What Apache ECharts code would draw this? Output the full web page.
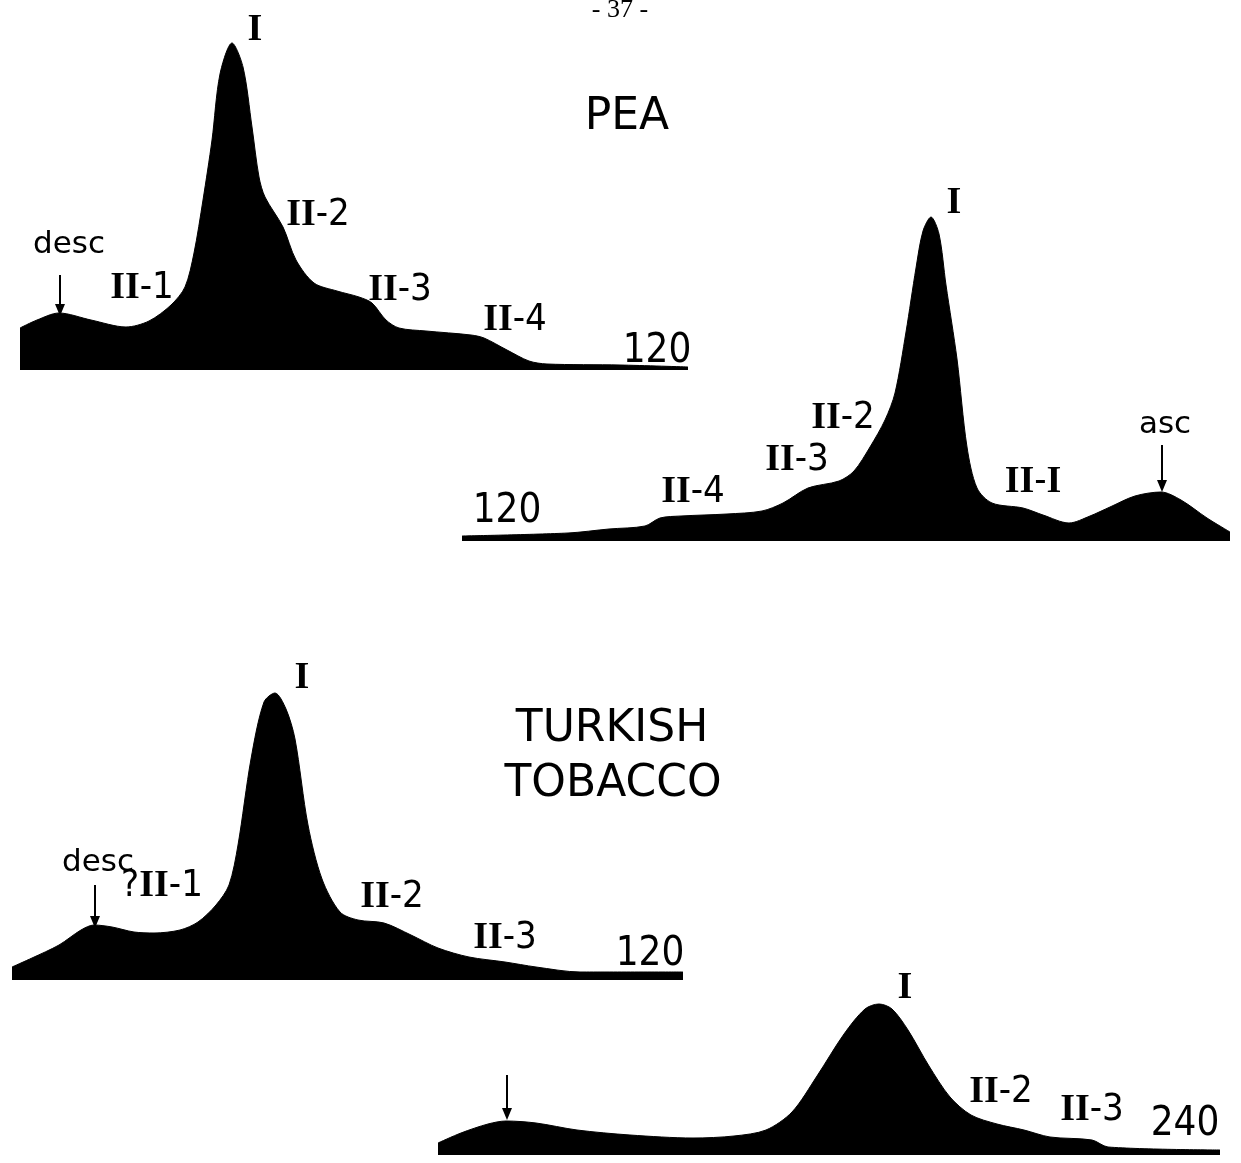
<!DOCTYPE html>
<html>
<head>
<meta charset="utf-8">
<script src="https://cdn.jsdelivr.net/npm/echarts@6/dist/echarts.min.js"></script>
<style>
  html, body { margin: 0; padding: 0; background: #fff; }
</style>
</head>
<body>
<div id="main" style="width: 1241px; height: 1163px"></div>
<script>
// sedimentation patterns, [distance, deflection]
var peaDesc = [
    [0, 42], [17, 50], [39, 57], [71, 50], [106, 43], [129, 49], [151, 65], [165, 83],
    [174, 117], [183, 170], [192, 230], [200, 296], [212, 327], [223, 303], [232, 243],
    [239, 193], [245, 173], [263, 143], [276, 110], [294, 87], [317, 79], [339, 73],
    [352, 67], [366, 50], [379, 42], [406, 39], [451, 35], [464, 32], [487, 20],
    [509, 9], [527, 6], [600, 5], [668, 3]
];
var peaAsc = [
    [0, 5], [106, 8], [147, 12], [183, 15], [198, 23], [219, 25], [265, 27], [300, 30],
    [321, 38], [346, 53], [377, 60], [392, 70], [408, 94], [423, 121], [433, 148],
    [444, 209], [454, 273], [461, 310], [469, 324], [477, 307], [484, 256], [495, 182],
    [505, 94], [515, 53], [530, 38], [561, 33], [581, 26], [607, 18], [628, 25],
    [648, 34], [673, 45], [699, 49], [719, 41], [745, 23], [768, 9]
];
var tobDesc = [
    [0, 13], [20, 22], [47, 35], [69, 50], [82, 55], [100, 53], [122, 48], [142, 47],
    [168, 50], [186, 58], [204, 75], [217, 95], [226, 135], [239, 221], [252, 278],
    [263, 287], [274, 271], [283, 241], [296, 155], [310, 101], [328, 68], [346, 60],
    [372, 57], [399, 45], [426, 32], [457, 23], [493, 18], [524, 13], [568, 8], [671, 8]
];
var tob240 = [
    [0, 12], [23, 22], [50, 31], [68, 34], [98, 32], [139, 25], [192, 20], [255, 17],
    [296, 19], [328, 25], [354, 43], [379, 79], [406, 121], [427, 146], [441, 151],
    [454, 146], [470, 125], [491, 89], [512, 58], [533, 40], [559, 31], [586, 25],
    [612, 18], [654, 15], [670, 8], [782, 5]
];
var patterns = [peaDesc, peaAsc, tobDesc, tob240];

// panel boxes on the page (left, top, width, height)
var panels = [
    { left: 20, top: 40, width: 668, height: 330 },
    { left: 462, top: 211, width: 768, height: 330 },
    { left: 12, top: 680, width: 671, height: 300 },
    { left: 438, top: 995, width: 782, height: 160 }
];

var narrow = '"Liberation Sans Narrow", "DejaVu Sans Condensed", sans-serif';
var sans = '"DejaVu Sans", sans-serif';
var serif = '"Liberation Serif", "DejaVu Serif", serif';
var rich = {
    s: { fontFamily: serif, fontSize: 38, fontWeight: 'bold', fill: '#000' }
};

var labels = [
    { t: '- 37 -', x: 620, y: 10, s: 26, f: serif },
    { t: 'PEA', x: 627, y: 118, s: 44, f: sans },
    { t: '{s|I}', x: 255, y: 30, s: 38, f: serif },
    { t: 'desc', x: 69, y: 245, s: 31, f: sans },
    { t: '{s|II}-1', x: 142, y: 288, s: 38, f: narrow },
    { t: '{s|II}-2', x: 318, y: 215, s: 38, f: narrow },
    { t: '{s|II}-3', x: 400, y: 290, s: 38, f: narrow },
    { t: '{s|II}-4', x: 515, y: 320, s: 38, f: narrow },
    { t: '120', x: 657, y: 352, s: 40, f: narrow },

    { t: '{s|I}', x: 954, y: 203, s: 38, f: serif },
    { t: '{s|II}-2', x: 843, y: 418, s: 38, f: narrow },
    { t: '{s|II}-3', x: 797, y: 460, s: 38, f: narrow },
    { t: '{s|II}-4', x: 693, y: 492, s: 38, f: narrow },
    { t: '120', x: 507, y: 512, s: 40, f: narrow },
    { t: '{s|II}-{s|I}', x: 1033, y: 482, s: 38, f: narrow },
    { t: 'asc', x: 1165, y: 425, s: 31, f: sans },

    { t: 'TURKISH', x: 612, y: 730, s: 44, f: sans },
    { t: 'TOBACCO', x: 613, y: 785, s: 44, f: sans },
    { t: '{s|I}', x: 302, y: 678, s: 38, f: serif },
    { t: 'desc', x: 98, y: 863, s: 31, f: sans },
    { t: '?{s|II}-1', x: 162, y: 886, s: 38, f: narrow },
    { t: '{s|II}-2', x: 392, y: 897, s: 38, f: narrow },
    { t: '{s|II}-3', x: 505, y: 938, s: 38, f: narrow },
    { t: '120', x: 650, y: 955, s: 40, f: narrow },

    { t: '{s|I}', x: 905, y: 988, s: 38, f: serif },
    { t: '{s|II}-2', x: 1001, y: 1092, s: 38, f: narrow },
    { t: '{s|II}-3', x: 1092, y: 1110, s: 38, f: narrow },
    { t: '240', x: 1185, y: 1125, s: 40, f: narrow }
];

// arrows: x, top, tip
var arrows = [[60, 275, 316], [1162, 445, 492], [95, 885, 928], [507, 1075, 1120]];

var chartDom = document.getElementById('main');
var myChart = echarts.init(chartDom);

var graphic = [];
labels.forEach(function (l) {
    graphic.push({
        type: 'text', x: l.x, y: l.y,
        style: {
            text: l.t, fontSize: l.s, fontFamily: l.f, fill: '#000',
            align: 'center', verticalAlign: 'middle', rich: rich
        }
    });
});
arrows.forEach(function (a) {
    graphic.push({ type: 'line', shape: { x1: a[0], y1: a[1], x2: a[0], y2: a[2] - 6 }, style: { stroke: '#000', lineWidth: 2 } });
    graphic.push({ type: 'polygon', shape: { points: [[a[0] - 5, a[2] - 12], [a[0] + 5, a[2] - 12], [a[0], a[2]]] }, style: { fill: '#000' } });
});

var option = {
    backgroundColor: '#fff',
    animation: false,
    grid: panels.map(function (p) {
        return { left: p.left, top: p.top, width: p.width, height: p.height };
    }),
    xAxis: panels.map(function (p, i) {
        return { type: 'value', gridIndex: i, min: 0, max: p.width, show: false };
    }),
    yAxis: panels.map(function (p, i) {
        return { type: 'value', gridIndex: i, min: 0, max: p.height, show: false };
    }),
    series: patterns.map(function (d, i) {
        return {
            type: 'line',
            xAxisIndex: i,
            yAxisIndex: i,
            data: d,
            smooth: 0.3,
            symbol: 'none',
            lineStyle: { color: '#000', width: 1 },
            areaStyle: { color: '#000', opacity: 1 }
        };
    }),
    graphic: graphic
};

option && myChart.setOption(option);
</script>
</body>
</html>
